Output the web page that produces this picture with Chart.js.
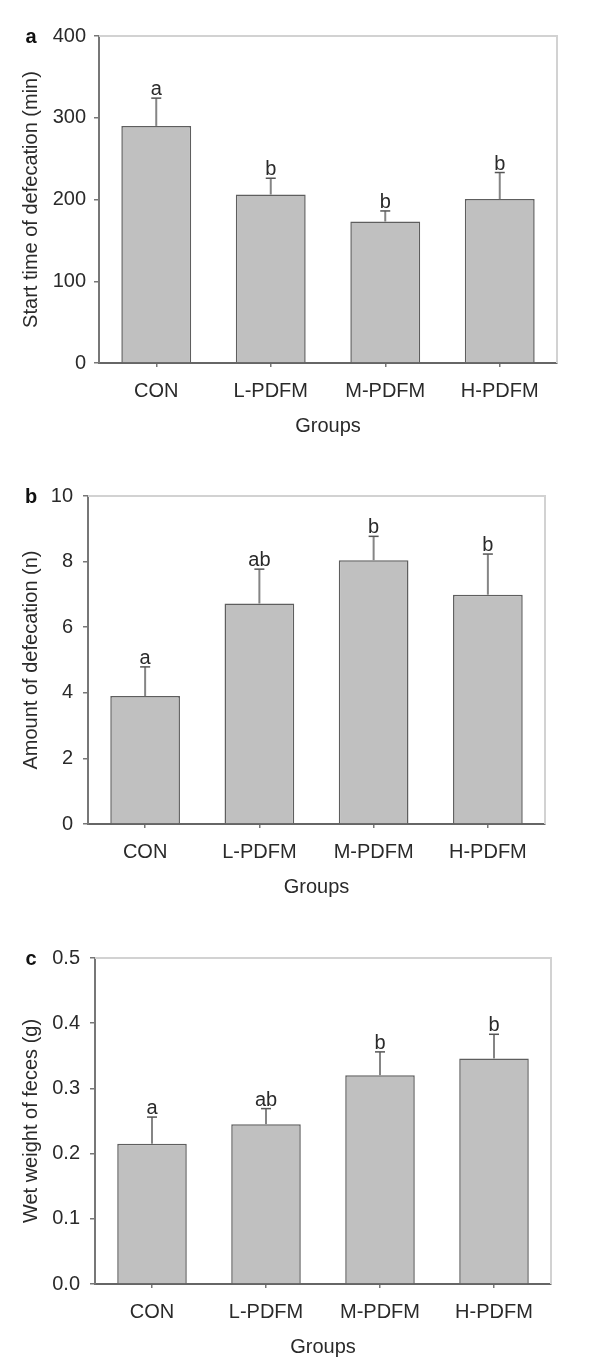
<!DOCTYPE html>
<html>
<head>
<meta charset="utf-8">
<script src="https://cdn.jsdelivr.net/npm/chart.js@4"></script>
<style>
  body { margin: 0; background: #fff; }
  #wrap { position: relative; width: 600px; height: 1369px; }
  canvas { position: absolute; left: 0; }
</style>
</head>
<body>
<div id="wrap">
  <canvas id="chartA" width="600" height="450" style="top:0px"></canvas>
  <canvas id="chartB" width="600" height="450" style="top:460px"></canvas>
  <canvas id="chartC" width="600" height="449" style="top:920px"></canvas>
</div>
<script>
// groups on the x axis
var groups = ['CON', 'L-PDFM', 'M-PDFM', 'H-PDFM'];

// a: start time of defecation (min)
var startMean = [290, 206, 173, 200.5];
var startErr = [34, 20, 13, 32.5];
var startSig = ['a', 'b', 'b', 'b'];
var startTicks = [0, 100, 200, 300, 400];
var startTickLabels = ['0', '100', '200', '300', '400'];

// b: amount of defecation (n)
var amountMean = [3.9, 6.72, 8.04, 6.99];
var amountErr = [0.89, 1.05, 0.73, 1.24];
var amountSig = ['a', 'ab', 'b', 'b'];
var amountTicks = [0, 2, 4, 6, 8, 10];
var amountTickLabels = ['0', '2', '4', '6', '8', '10'];

// c: wet weight of feces (g)
var weightMean = [0.215, 0.245, 0.32, 0.346];
var weightErr = [0.041, 0.024, 0.036, 0.037];
var weightSig = ['a', 'ab', 'b', 'b'];
var weightTicks = [0, 0.1, 0.2, 0.3, 0.4, 0.5];
var weightTickLabels = ['0.0', '0.1', '0.2', '0.3', '0.4', '0.5'];

var FONT = "'Liberation Sans', Arial, sans-serif";
var TEXT = '#2a2a2a';

// error bars, significance letters, frame and panel letter
var extras = {
    id: 'extras',
    afterDatasetsDraw: function(chart) {
        var p = chart.options.plugins.extras;
        var ctx = chart.ctx;
        var y = chart.scales.y;
        var area = chart.chartArea;
        var bars = chart.getDatasetMeta(0).data;
        ctx.save();
        // light frame top and right
        ctx.strokeStyle = '#d2d2d2';
        ctx.lineWidth = 2;
        ctx.beginPath();
        ctx.moveTo(area.left, area.top);
        ctx.lineTo(area.right, area.top);
        ctx.lineTo(area.right, area.bottom);
        ctx.stroke();
        bars.forEach(function(bar, i) {
            var top = y.getPixelForValue(p.mean[i] + p.err[i]);
            var base = y.getPixelForValue(p.mean[i]);
            ctx.strokeStyle = '#858585';
            ctx.lineWidth = 2;
            ctx.beginPath();
            ctx.moveTo(bar.x, base);
            ctx.lineTo(bar.x, top);
            ctx.stroke();
            ctx.strokeStyle = '#555';
            ctx.lineWidth = 1.5;
            ctx.beginPath();
            ctx.moveTo(bar.x - 5, top);
            ctx.lineTo(bar.x + 5, top);
            ctx.stroke();
            ctx.fillStyle = TEXT;
            ctx.font = '20px ' + FONT;
            ctx.textAlign = 'center';
            ctx.textBaseline = 'alphabetic';
            ctx.fillText(p.sig[i], bar.x, top - 3);
        });
        ctx.fillStyle = '#111';
        ctx.font = 'bold 20px ' + FONT;
        ctx.textAlign = 'center';
        ctx.textBaseline = 'middle';
        ctx.fillText(p.letter, 31, area.top + 1);
        ctx.restore();
    }
};

function makePanel(id, cfg) {
    var canvas = document.getElementById(id);
    var H = canvas.height;
    var xAxisH = 75;
    return new Chart(canvas, {
        type: 'bar',
        data: {
            labels: groups,
            datasets: [{
                data: cfg.mean,
                backgroundColor: '#c0c0c0',
                borderColor: '#5e5e5e',
                borderWidth: 1.5,
                categoryPercentage: 1,
                barPercentage: 0.61
            }]
        },
        plugins: [extras],
        options: {
            responsive: false,
            animation: false,
            layout: {
                padding: {left: 0, top: cfg.top, right: 600 - cfg.right, bottom: H - cfg.bottom - xAxisH}
            },
            plugins: {
                legend: {display: false},
                tooltip: {enabled: false},
                extras: {mean: cfg.mean, err: cfg.err, sig: cfg.sig, letter: cfg.letter}
            },
            scales: {
                x: {
                    offset: true,
                    afterFit: function(s) { s.height = xAxisH; },
                    grid: {display: true, drawOnChartArea: false, offset: false, tickLength: 4, color: '#777', lineWidth: 1.5},
                    border: {display: true, color: '#666', width: 2},
                    ticks: {color: TEXT, font: {family: FONT, size: 20}, padding: 12, maxRotation: 0},
                    title: {display: true, text: 'Groups', color: TEXT, font: {family: FONT, size: 20}, padding: {top: 0, bottom: 0}}
                },
                y: {
                    min: cfg.ticks[0],
                    max: cfg.ticks[cfg.ticks.length - 1],
                    afterFit: function(s) { s.width = cfg.left; },
                    afterBuildTicks: function(s) { s.ticks = cfg.ticks.map(function(v) { return {value: v}; }); },
                    grid: {display: true, drawOnChartArea: false, tickLength: 5, color: '#777', lineWidth: 1.5},
                    border: {display: true, color: '#777', width: 2},
                    ticks: {
                        color: TEXT, font: {family: FONT, size: 20}, padding: cfg.tickPad,
                        callback: function(v, i) { return cfg.tickLabels[i]; }
                    },
                    title: {display: true, text: cfg.title, color: TEXT, font: {family: FONT, size: 20}, padding: {top: 19, bottom: 0}}
                }
            }
        }
    });
}

makePanel('chartA', {mean: startMean, err: startErr, sig: startSig, ticks: startTicks, tickLabels: startTickLabels,
    title: 'Start time of defecation (min)', letter: 'a', left: 99, right: 557, top: 36, bottom: 363, tickPad: 8});
makePanel('chartB', {mean: amountMean, err: amountErr, sig: amountSig, ticks: amountTicks, tickLabels: amountTickLabels,
    title: 'Amount of defecation (n)', letter: 'b', left: 88, right: 545, top: 36, bottom: 364, tickPad: 10});
makePanel('chartC', {mean: weightMean, err: weightErr, sig: weightSig, ticks: weightTicks, tickLabels: weightTickLabels,
    title: 'Wet weight of feces (g)', letter: 'c', left: 95, right: 551, top: 38, bottom: 364, tickPad: 10});
</script>
</body>
</html>
